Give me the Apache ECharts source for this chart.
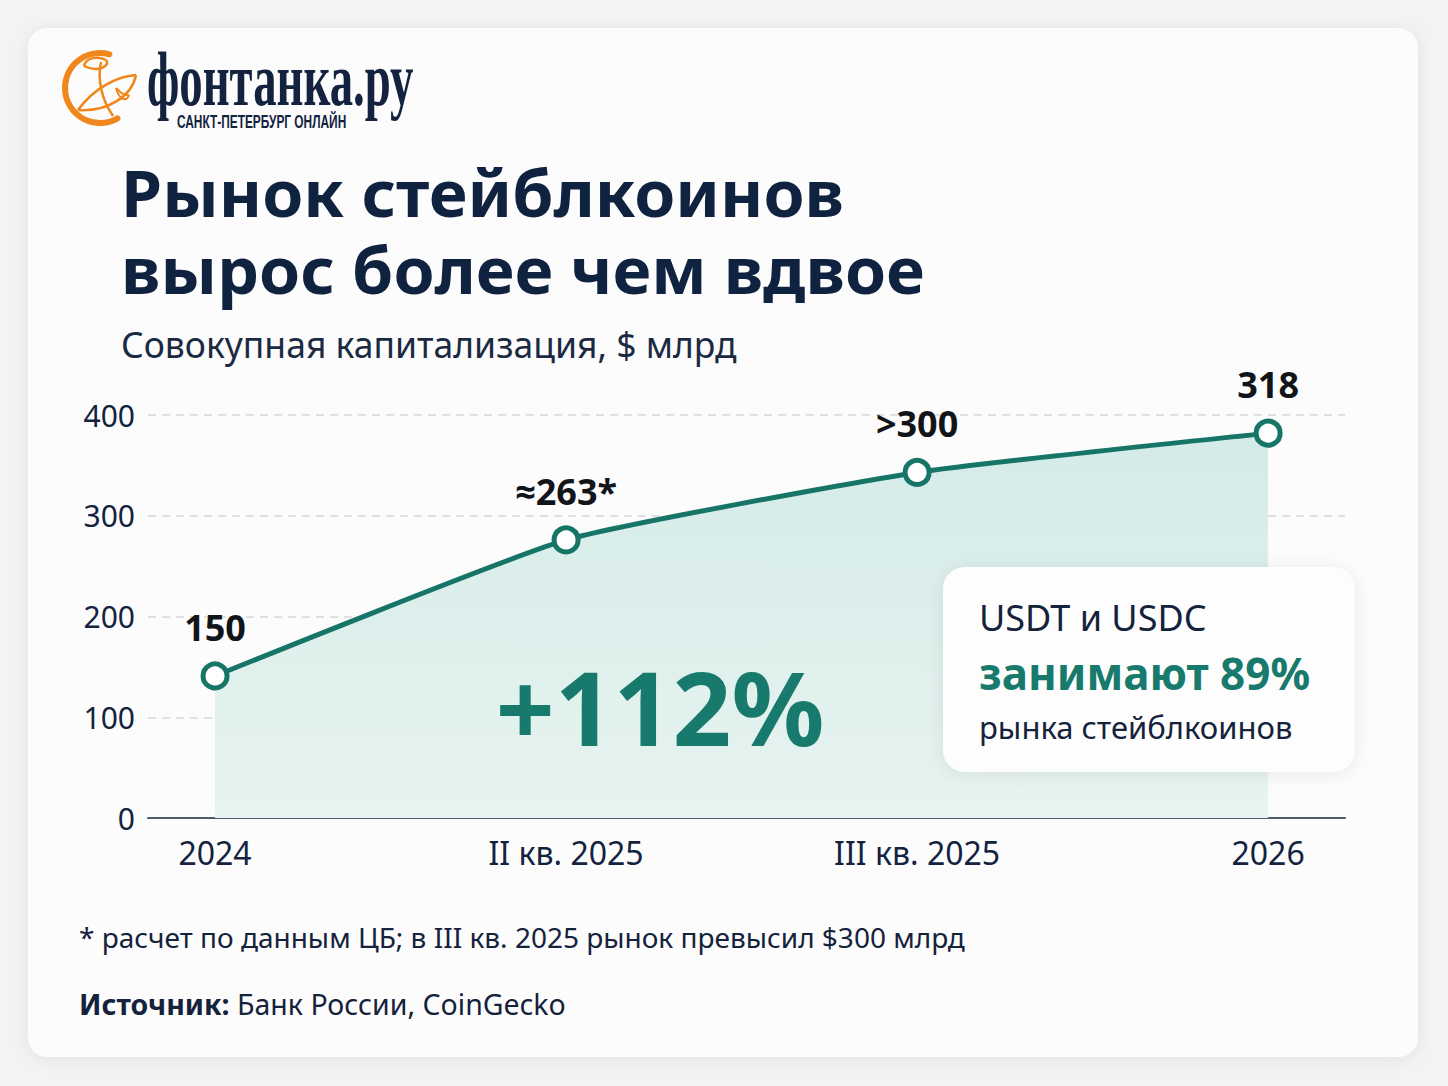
<!DOCTYPE html>
<html>
<head>
<meta charset="utf-8">
<script src="https://cdn.jsdelivr.net/npm/echarts@6/dist/echarts.min.js"></script>
<style>
html,body{margin:0;padding:0;background:#f3f3f4;}
#chart{width:1448px;height:1086px;}
</style>
</head>
<body>
<div id="chart"></div>
<script>
// ---- data ----
const categories = ['2024', 'II кв. 2025', 'III кв. 2025', '2026'];
const capValues = [141, 276, 343, 382];           // plotted heights as drawn
const pointLabels = ['150', '≈263*', '>300', '318'];
const yTicks = [0, 100, 200, 300, 400];
const titleLines = ['Рынок стейблкоинов', 'вырос более чем вдвое'];
const subtitle = 'Совокупная капитализация, $ млрд';
const growthText = '+112%';
const boxLines = ['USDT и USDC', 'занимают 89%', 'рынка стейблкоинов'];
const footnote = '* расчет по данным ЦБ; в III кв. 2025 рынок превысил $300 млрд';
const sourceLabel = 'Источник:';
const sourceText = ' Банк России, CoinGecko';

const TEAL = '#177568';
const NAVY = '#13233f';
const ORANGE = '#f0871c';
const FONT = '"Noto Sans", "Open Sans", sans-serif';

const chart = echarts.init(document.getElementById('chart'), null, {renderer: 'svg'});

function curve(x1, y1, cx1, cy1, cx2, cy2, x2, y2, w) {
  return {type: 'bezierCurve', z: 100,
    shape: {x1: x1, y1: y1, cpx1: cx1, cpy1: cy1, cpx2: cx2, cpy2: cy2, x2: x2, y2: y2},
    style: {stroke: ORANGE, lineWidth: w || 2.5, fill: null}};
}

const option = {
  backgroundColor: 'transparent',
  textStyle: {fontFamily: FONT},
  grid: {left: 148, right: 103, top: 415, bottom: 268},
  xAxis: {
    type: 'value',
    min: -0.191,
    max: 3.219,
    axisLine: {show: true, onZero: true, lineStyle: {color: '#4d5c6b', width: 2}},
    axisTick: {show: false},
    splitLine: {show: false},
    axisLabel: {
      customValues: categories.map((c, i) => i),
      formatter: v => categories[Math.round(v)],
      fontSize: 32, color: NAVY, margin: 18, fontFamily: FONT
    }
  },
  yAxis: {
    type: 'value',
    min: yTicks[0],
    max: yTicks[yTicks.length - 1],
    interval: 100,
    axisLine: {show: false},
    axisTick: {show: false},
    splitLine: {lineStyle: {color: '#d3d6da', type: [8, 6], width: 1.5}},
    axisLabel: {fontSize: 30, color: NAVY, margin: 13, fontFamily: FONT}
  },
  series: [{
    type: 'line',
    data: capValues.map((v, i) => [i, v]),
    smooth: 0.15,
    symbol: 'circle',
    symbolSize: 24,
    z: 5,
    lineStyle: {color: TEAL, width: 5},
    itemStyle: {color: '#ffffff', borderColor: TEAL, borderWidth: 5},
    areaStyle: {
      opacity: 1,
      color: new echarts.graphic.LinearGradient(0, 0, 0, 1, [
        {offset: 0, color: '#d4ebe7'},
        {offset: 1, color: '#e7f4f1'}
      ])
    },
    label: {
      show: true,
      position: 'top',
      distance: 16,
      formatter: p => pointLabels[p.dataIndex],
      fontSize: 36,
      fontWeight: 'bold',
      color: '#111418',
      fontFamily: FONT
    },
    emphasis: {disabled: true}
  }],
  graphic: [
    // card
    {type: 'rect', z: -10, shape: {x: 28, y: 28, width: 1390, height: 1029, r: 20},
     style: {fill: '#fcfcfc', shadowBlur: 16, shadowColor: 'rgba(0,0,0,0.07)', shadowOffsetY: 2}},
    // logo mark
    {type: 'arc', z: 100, shape: {cx: 100, cy: 88, r: 35, startAngle: Math.PI / 3, endAngle: 2 * Math.PI - 1.3, clockwise: true},
     style: {stroke: ORANGE, lineWidth: 6, fill: null, lineCap: 'round'}},
    curve(78, 110, 94, 88, 118, 76, 136, 75),
    curve(136, 75, 132, 96, 108, 112, 78, 110),
    curve(84, 66, 86, 57, 98, 56, 106, 60),
    curve(106, 60, 111, 66, 98, 73, 84, 66),
    curve(101, 62, 97, 80, 102, 100, 113, 116),
    curve(116, 88, 120, 92, 124, 96, 129, 95, 2),
    curve(129, 95, 127, 101, 120, 102, 116, 88, 2),
    // logo text
    {type: 'text', z: 100, x: 147, y: 80, scaleX: 0.615,
     style: {text: 'фонтанка.ру', font: 'bold 76px "Liberation Serif", serif', fill: '#13233f', verticalAlign: 'middle', lineHeight: 76}},
    {type: 'text', z: 100, x: 177, y: 122, scaleX: 0.66,
     style: {text: 'САНКТ-ПЕТЕРБУРГ ОНЛАЙН', font: 'bold 18px "Liberation Sans", sans-serif', fill: '#13233f', verticalAlign: 'middle', lineHeight: 18}},
    // title (two lines in one text block)
    {type: 'text', z: 100, x: 121, y: 230, scaleX: 1.035,
     style: {text: titleLines.join('\n'), font: 'bold 64px ' + FONT, fill: '#0f2240', verticalAlign: 'middle', lineHeight: 77}},
    {type: 'text', z: 100, x: 121, y: 344,
     style: {text: subtitle, font: '35.5px ' + FONT, fill: '#1b2a42', verticalAlign: 'middle', lineHeight: 40}},
    // growth
    {type: 'text', z: 100, x: 660, y: 706,
     style: {text: growthText, font: 'bold 103px ' + FONT, fill: '#177a6d', align: 'center', verticalAlign: 'middle'}},
    // info box
    {type: 'rect', z: 90, shape: {x: 943, y: 567, width: 412, height: 205, r: 22},
     style: {fill: '#fdfdfd', shadowBlur: 18, shadowColor: 'rgba(0,0,0,0.08)', shadowOffsetY: 2}},
    {type: 'text', z: 100, x: 979, y: 617,
     style: {text: boxLines[0], font: '36px ' + FONT, fill: '#15223b', verticalAlign: 'middle', lineHeight: 40}},
    {type: 'text', z: 100, x: 979, y: 673,
     style: {text: boxLines[1], font: 'bold 44px ' + FONT, fill: '#177a6d', verticalAlign: 'middle', lineHeight: 46}},
    {type: 'text', z: 100, x: 979, y: 727,
     style: {text: boxLines[2], font: '31px ' + FONT, fill: '#15223b', verticalAlign: 'middle', lineHeight: 36}},
    // footer
    {type: 'text', z: 100, x: 79, y: 937,
     style: {text: footnote, font: '28px ' + FONT, fill: '#15223b', verticalAlign: 'middle'}},
    {type: 'text', z: 100, x: 79, y: 1004,
     style: {text: '{b|' + sourceLabel + '}{r|' + sourceText + '}', verticalAlign: 'middle',
       rich: {b: {font: 'bold 28.5px ' + FONT, fill: '#15223b'},
              r: {font: '28.5px ' + FONT, fill: '#15223b'}}}}
  ]
};
chart.setOption(option);
</script>
</body>
</html>
